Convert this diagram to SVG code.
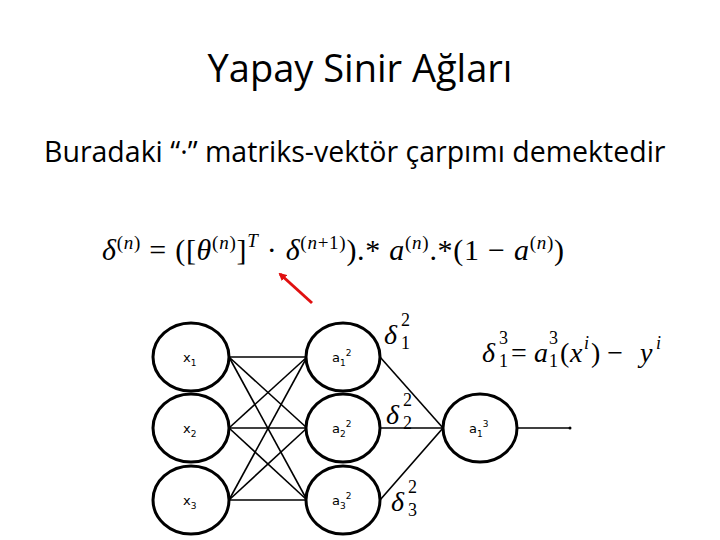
<svg xmlns="http://www.w3.org/2000/svg" width="720" height="540" viewBox="0 0 720 540">
<defs><marker id="ah" markerWidth="8" markerHeight="8" refX="6" refY="4" orient="auto" markerUnits="userSpaceOnUse"><path d="M0,0 L8,4 L0,8 z" fill="#e01010"/></marker></defs>
<style>
.n{fill:#fff;stroke:#000;stroke-width:3}
.c line{stroke:#000;stroke-width:1.6}
.t{font-family:"DejaVu Sans",sans-serif;font-size:13px}
.m{font-family:"Liberation Serif",serif;font-style:italic}
.r{font-family:"Liberation Serif",serif;font-style:normal}
.s{font-family:"Liberation Serif",serif;font-size:18px}
</style>
<rect width="720" height="540" fill="#fff"/>
<text x="360" y="82" text-anchor="middle" font-family="Open Sans, sans-serif" font-size="38">Yapay Sinir Ağları</text>
<text x="44" y="162" font-family="Open Sans, sans-serif" font-size="28.5">Buradaki “·” matriks-vektör çarpımı demektedir</text>
<text x="102" y="260" font-size="30" class="r" textLength="462"><tspan class="m">δ</tspan><tspan dy="-11" font-size="19">(<tspan class="m">n</tspan>)</tspan><tspan dy="11"> = ([</tspan><tspan class="m">θ</tspan><tspan dy="-11" font-size="19">(<tspan class="m">n</tspan>)</tspan><tspan dy="11">]</tspan><tspan dy="-13" font-size="19" class="m">T</tspan><tspan dy="13"> · </tspan><tspan class="m">δ</tspan><tspan dy="-11" font-size="19">(<tspan class="m">n</tspan>+1)</tspan><tspan dy="11">).* </tspan><tspan class="m">a</tspan><tspan dy="-11" font-size="19">(<tspan class="m">n</tspan>)</tspan><tspan dy="11">.*(1 − </tspan><tspan class="m">a</tspan><tspan dy="-11" font-size="19">(<tspan class="m">n</tspan>)</tspan><tspan dy="11">)</tspan></text>
<line x1="312" y1="303" x2="280" y2="274" stroke="#e01010" stroke-width="3" marker-end="url(#ah)"/>
<g class="c">
<line x1="229" y1="357" x2="307" y2="357"/><line x1="229" y1="357" x2="307" y2="428"/><line x1="229" y1="357" x2="307" y2="500"/>
<line x1="229" y1="428" x2="307" y2="357"/><line x1="229" y1="428" x2="307" y2="428"/><line x1="229" y1="428" x2="307" y2="500"/>
<line x1="229" y1="500" x2="307" y2="357"/><line x1="229" y1="500" x2="307" y2="428"/><line x1="229" y1="500" x2="307" y2="500"/>
<line x1="380" y1="357" x2="443" y2="428"/><line x1="380" y1="428" x2="443" y2="428"/><line x1="380" y1="500" x2="443" y2="428"/>
<line x1="517" y1="428" x2="570" y2="428"/>
</g>
<g id="x1"><ellipse class="n" cx="191" cy="357" rx="38" ry="34"/><text class="t" x="183" y="362">x<tspan font-size="9" dy="4">1</tspan></text></g>
<g id="x2"><ellipse class="n" cx="191" cy="428" rx="38" ry="34"/><text class="t" x="183" y="433">x<tspan font-size="9" dy="4">2</tspan></text></g>
<g id="x3"><ellipse class="n" cx="191" cy="500" rx="38" ry="34"/><text class="t" x="183" y="505">x<tspan font-size="9" dy="4">3</tspan></text></g>
<g id="a12"><ellipse class="n" cx="343" cy="357" rx="37" ry="34"/><text class="t" x="332" y="362">a<tspan font-size="9" dy="4">1</tspan><tspan font-size="9" dy="-10">2</tspan></text></g>
<g id="a22"><ellipse class="n" cx="343" cy="428" rx="37" ry="34"/><text class="t" x="332" y="433">a<tspan font-size="9" dy="4">2</tspan><tspan font-size="9" dy="-10">2</tspan></text></g>
<g id="a32"><ellipse class="n" cx="343" cy="500" rx="37" ry="34"/><text class="t" x="332" y="505">a<tspan font-size="9" dy="4">3</tspan><tspan font-size="9" dy="-10">2</tspan></text></g>
<g id="a13"><ellipse class="n" cx="480" cy="428" rx="37" ry="34"/><text class="t" x="469" y="433">a<tspan font-size="9" dy="4">1</tspan><tspan font-size="9" dy="-10">3</tspan></text></g>
<circle cx="570" cy="428" r="1.5"/>
<g font-size="28">
<text x="384" y="344" class="m">δ</text><text x="401" y="349" class="s">1</text><text x="401" y="326" class="s">2</text>
<text x="386" y="424" class="m">δ</text><text x="403" y="429" class="s">2</text><text x="403" y="406" class="s">2</text>
<text x="391" y="511" class="m">δ</text><text x="408" y="516" class="s">3</text><text x="408" y="493" class="s">2</text>
<text x="482" y="362" class="m">δ</text><text x="499" y="367" class="s">1</text><text x="499" y="344" class="s">3</text>
<text x="511" y="362" class="r">=</text>
<text x="534" y="362" class="m">a</text><text x="549" y="367" class="s">1</text><text x="549" y="344" class="s">3</text>
<text x="560" y="362" class="r">(</text><text x="570" y="362" class="m">x</text><text x="584" y="349" class="s" font-style="italic">i</text>
<text x="591" y="362" class="r">) −</text><text x="640" y="362" class="m">y</text><text x="656" y="349" class="s" font-style="italic">i</text>
</g>
</svg>
